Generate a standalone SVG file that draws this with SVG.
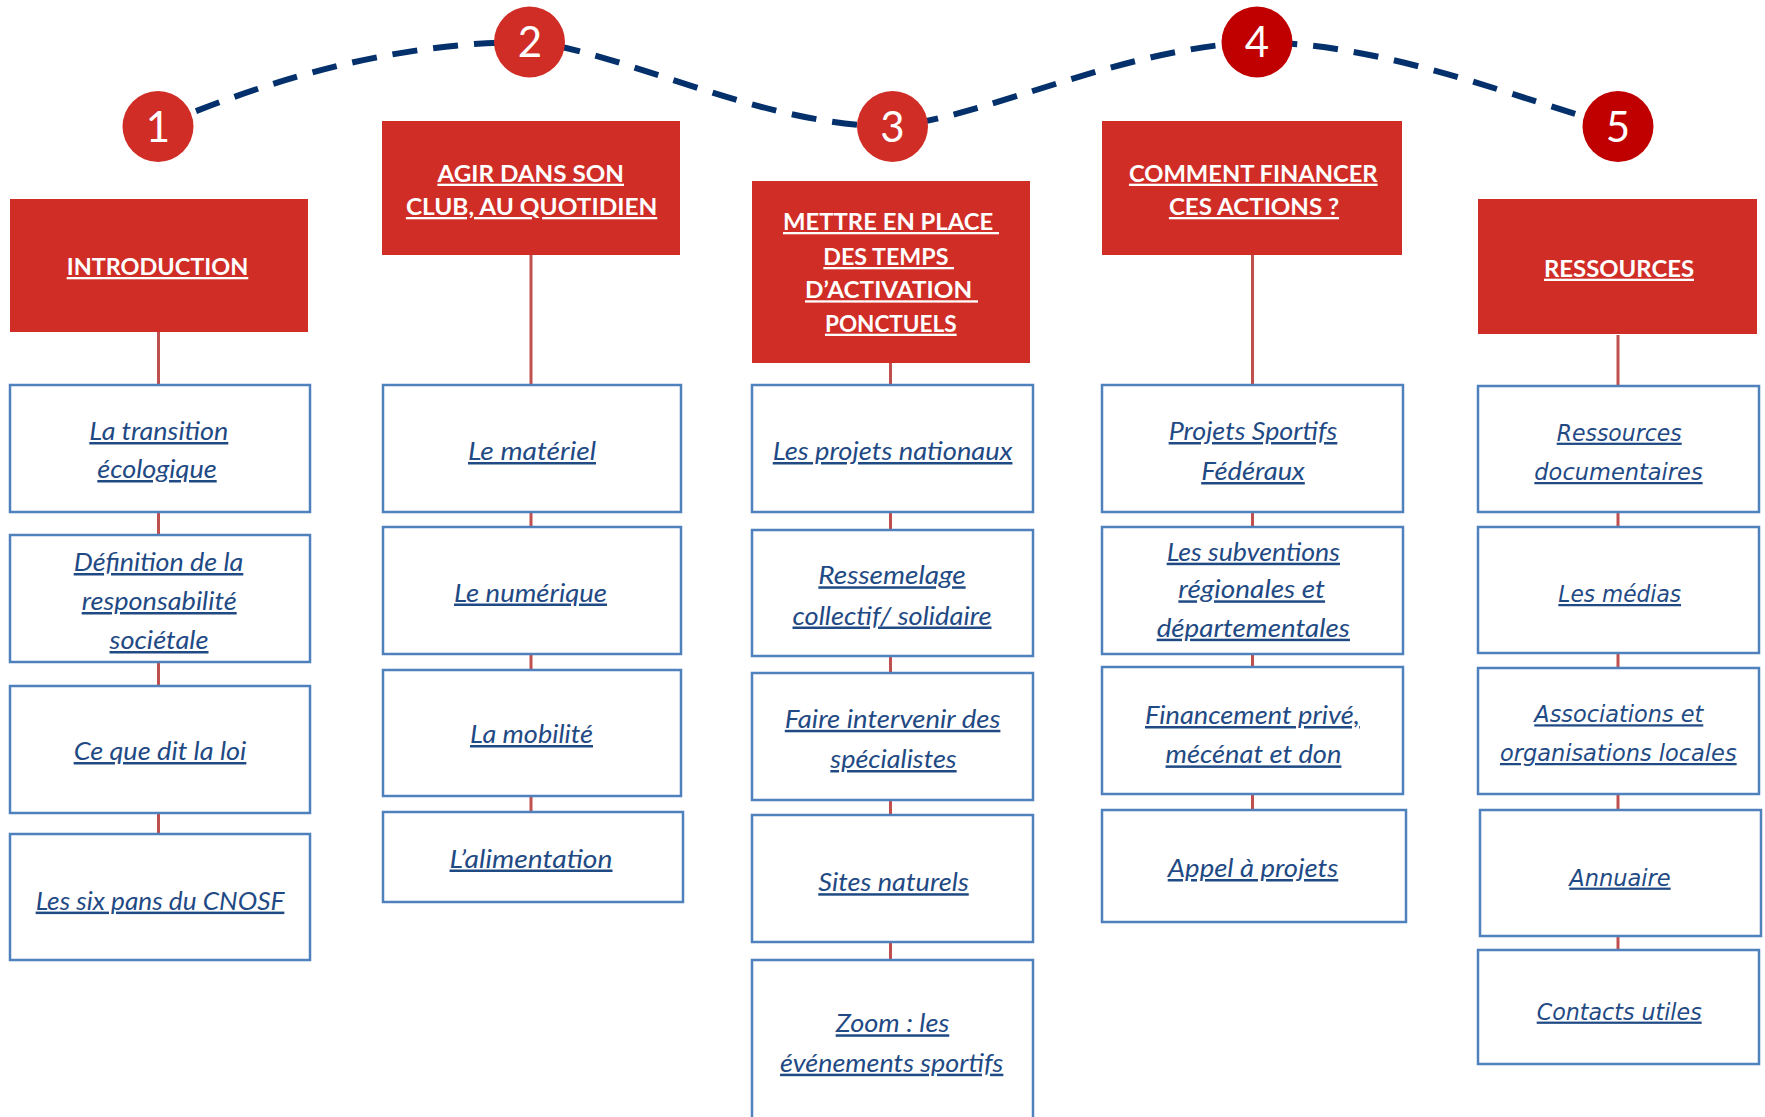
<svg xmlns="http://www.w3.org/2000/svg" width="1765" height="1117" viewBox="0 0 1765 1117">
<style>
.hdr{fill:#D12D27}
.ht{font-family:Lato,"Liberation Sans",sans-serif;font-weight:bold;font-size:23px;fill:#fff;text-decoration:underline;text-anchor:middle}
.box{fill:#fff;stroke:#4F81BD;stroke-width:2.5}
.bt{font-family:Lato,"Liberation Sans",sans-serif;font-style:italic;font-size:25px;fill:#1F4A84;text-decoration:underline;text-anchor:middle}
.bt5{font-family:"DejaVu Sans",Verdana,sans-serif;font-style:italic;font-size:22.5px;fill:#1F4A84;text-decoration:underline;text-anchor:middle}
.conn line{stroke:#C0504D;stroke-width:3}
.wave{fill:none;stroke:#04306C;stroke-width:6;stroke-dasharray:25 16}
.circ{fill:#D12D27}
.circd{fill:#C00000}
.num{font-family:Lato,"Liberation Sans",sans-serif;font-size:42px;fill:#fff;text-anchor:middle}
</style>
<rect width="1765" height="1117" fill="#fff"/>

<g id="wave">
<path class="wave" d="M158,126.5 C250,88 380,42 529.5,42 C620,50 760,126.5 892.5,126.5 C990,116 1120,48 1257,42 C1390,44 1520,100 1618,126.5"/>
</g>

<g id="steps">
<g id="step1"><circle class="circ" cx="158" cy="126.5" r="35.5"/><text class="num" x="158" y="141.5">1</text></g>
<g id="step2"><circle class="circ" cx="529.5" cy="42" r="35.5"/><text class="num" x="530" y="57">2</text></g>
<g id="step3"><circle class="circ" cx="892.5" cy="126.5" r="35.5"/><text class="num" x="892.5" y="141.5">3</text></g>
<g id="step4"><circle class="circd" cx="1257" cy="42" r="35.5"/><text class="num" x="1257" y="57">4</text></g>
<g id="step5"><circle class="circd" cx="1618" cy="126.5" r="35.5"/><text class="num" x="1618" y="141.5">5</text></g>
</g>

<g id="connectors" class="conn">
<line x1="158.5" y1="332" x2="158.5" y2="385"/>
<line x1="158.5" y1="512" x2="158.5" y2="535"/>
<line x1="158.5" y1="662" x2="158.5" y2="686"/>
<line x1="158.5" y1="813" x2="158.5" y2="834"/>
<line x1="531" y1="255" x2="531" y2="385"/>
<line x1="531" y1="512" x2="531" y2="527"/>
<line x1="531" y1="654" x2="531" y2="670"/>
<line x1="531" y1="796" x2="531" y2="812"/>
<line x1="890.5" y1="363" x2="890.5" y2="385"/>
<line x1="890.5" y1="512" x2="890.5" y2="530"/>
<line x1="890.5" y1="656" x2="890.5" y2="673"/>
<line x1="890.5" y1="800" x2="890.5" y2="815"/>
<line x1="890.5" y1="942" x2="890.5" y2="960"/>
<line x1="1252.5" y1="255" x2="1252.5" y2="385"/>
<line x1="1252.5" y1="512" x2="1252.5" y2="527"/>
<line x1="1252.5" y1="654" x2="1252.5" y2="667"/>
<line x1="1252.5" y1="794" x2="1252.5" y2="810"/>
<line x1="1618" y1="335" x2="1618" y2="386"/>
<line x1="1618" y1="512" x2="1618" y2="527"/>
<line x1="1618" y1="653" x2="1618" y2="668"/>
<line x1="1618" y1="794" x2="1618" y2="810"/>
<line x1="1618" y1="936" x2="1618" y2="950"/>
</g>

<g id="h1"><rect class="hdr" x="10" y="199" width="298" height="133"/>
<text class="ht" x="157.5" y="275" textLength="181.6" lengthAdjust="spacingAndGlyphs">INTRODUCTION</text></g>
<g id="h2"><rect class="hdr" x="382" y="121" width="298" height="134"/>
<text class="ht" x="530.7" y="181.7" textLength="186.6" lengthAdjust="spacingAndGlyphs">AGIR DANS SON</text>
<text class="ht" x="531.6" y="215" textLength="251.4" lengthAdjust="spacingAndGlyphs">CLUB, AU QUOTIDIEN</text></g>
<g id="h3"><rect class="hdr" x="752" y="181" width="278" height="182"/>
<text class="ht" x="891" y="230" textLength="216" lengthAdjust="spacingAndGlyphs">METTRE EN PLACE&#160;</text>
<text class="ht" x="888.7" y="265" textLength="130.7" lengthAdjust="spacingAndGlyphs">DES TEMPS&#160;</text>
<text class="ht" x="891.5" y="298.3" textLength="173" lengthAdjust="spacingAndGlyphs">D’ACTIVATION&#160;</text>
<text class="ht" x="890.8" y="331.7" textLength="131.7" lengthAdjust="spacingAndGlyphs">PONCTUELS</text></g>
<g id="h4"><rect class="hdr" x="1102" y="121" width="300" height="134"/>
<text class="ht" x="1253.3" y="181.7" textLength="248.7" lengthAdjust="spacingAndGlyphs">COMMENT FINANCER</text>
<text class="ht" x="1254" y="215" textLength="170.2" lengthAdjust="spacingAndGlyphs">CES ACTIONS ?</text></g>
<g id="h5"><rect class="hdr" x="1478" y="199" width="279" height="135"/>
<text class="ht" x="1619" y="276.7" textLength="150" lengthAdjust="spacingAndGlyphs">RESSOURCES</text></g>

<g id="c1b1"><rect class="box" x="10" y="385" width="300" height="127"/>
<text class="bt" x="158.8" y="440" textLength="139" lengthAdjust="spacingAndGlyphs">La transition</text>
<text class="bt" x="157" y="478" textLength="119.4" lengthAdjust="spacingAndGlyphs">écologique</text></g>
<g id="c1b2"><rect class="box" x="10" y="535" width="300" height="127"/>
<text class="bt" x="158.5" y="571" textLength="169.6" lengthAdjust="spacingAndGlyphs">Définition de la</text>
<text class="bt" x="159.2" y="610" textLength="155" lengthAdjust="spacingAndGlyphs">responsabilité</text>
<text class="bt" x="159" y="649" textLength="99" lengthAdjust="spacingAndGlyphs">sociétale</text></g>
<g id="c1b3"><rect class="box" x="10" y="686" width="300" height="127"/>
<text class="bt" x="160" y="760" textLength="172.7" lengthAdjust="spacingAndGlyphs">Ce que dit la loi</text></g>
<g id="c1b4"><rect class="box" x="10" y="834" width="300" height="126"/>
<text class="bt" x="160" y="909.6" textLength="248.7" lengthAdjust="spacingAndGlyphs">Les six pans du CNOSF</text></g>

<g id="c2b1"><rect class="box" x="383" y="385" width="298" height="127"/>
<text class="bt" x="532" y="460" textLength="128" lengthAdjust="spacingAndGlyphs">Le matériel</text></g>
<g id="c2b2"><rect class="box" x="383" y="527" width="298" height="127"/>
<text class="bt" x="530.5" y="601.5" textLength="153" lengthAdjust="spacingAndGlyphs">Le numérique</text></g>
<g id="c2b3"><rect class="box" x="383" y="670" width="298" height="126"/>
<text class="bt" x="531.5" y="743" textLength="123" lengthAdjust="spacingAndGlyphs">La mobilité</text></g>
<g id="c2b4"><rect class="box" x="383" y="812" width="300" height="90"/>
<text class="bt" x="531" y="867.5" textLength="163" lengthAdjust="spacingAndGlyphs">L’alimentation</text></g>

<g id="c3b1"><rect class="box" x="752" y="385" width="281" height="127"/>
<text class="bt" x="892.6" y="460" textLength="239.7" lengthAdjust="spacingAndGlyphs">Les projets nationaux</text></g>
<g id="c3b2"><rect class="box" x="752" y="530" width="281" height="126"/>
<text class="bt" x="892" y="584.3" textLength="147.3" lengthAdjust="spacingAndGlyphs">Ressemelage</text>
<text class="bt" x="892" y="624.5" textLength="199" lengthAdjust="spacingAndGlyphs">collectif/ solidaire</text></g>
<g id="c3b3"><rect class="box" x="752" y="673" width="281" height="127"/>
<text class="bt" x="892.6" y="727.8" textLength="215.6" lengthAdjust="spacingAndGlyphs">Faire intervenir des</text>
<text class="bt" x="893.5" y="768" textLength="126.3" lengthAdjust="spacingAndGlyphs">spécialistes</text></g>
<g id="c3b4"><rect class="box" x="752" y="815" width="281" height="127"/>
<text class="bt" x="893.5" y="891.2" textLength="150.5" lengthAdjust="spacingAndGlyphs">Sites naturels</text></g>
<g id="c3b5"><rect class="box" x="752" y="960" width="281" height="170"/>
<text class="bt" x="892.5" y="1032.3" textLength="113.6" lengthAdjust="spacingAndGlyphs">Zoom : les</text>
<text class="bt" x="891.7" y="1071.7" textLength="223.3" lengthAdjust="spacingAndGlyphs">événements sportifs</text></g>

<g id="c4b1"><rect class="box" x="1102" y="385" width="301" height="127"/>
<text class="bt" x="1253" y="440" textLength="168.7" lengthAdjust="spacingAndGlyphs">Projets Sportifs</text>
<text class="bt" x="1253" y="480" textLength="103.6" lengthAdjust="spacingAndGlyphs">Fédéraux</text></g>
<g id="c4b2"><rect class="box" x="1102" y="527" width="301" height="127"/>
<text class="bt" x="1253.3" y="560.7" textLength="173.3" lengthAdjust="spacingAndGlyphs">Les subventions</text>
<text class="bt" x="1251.7" y="598.3" textLength="146.7" lengthAdjust="spacingAndGlyphs">régionales et</text>
<text class="bt" x="1253.3" y="636.7" textLength="193.3" lengthAdjust="spacingAndGlyphs">départementales</text></g>
<g id="c4b3"><rect class="box" x="1102" y="667" width="301" height="127"/>
<text class="bt" x="1252.4" y="724" textLength="214.8" lengthAdjust="spacingAndGlyphs">Financement privé,</text>
<text class="bt" x="1253.5" y="763.4" textLength="175.9" lengthAdjust="spacingAndGlyphs">mécénat et don</text></g>
<g id="c4b4"><rect class="box" x="1102" y="810" width="304" height="112"/>
<text class="bt" x="1253" y="877" textLength="170.5" lengthAdjust="spacingAndGlyphs">Appel à projets</text></g>

<g id="c5b1"><rect class="box" x="1478" y="386" width="281" height="126"/>
<text class="bt5" x="1619.2" y="440.7" textLength="125" lengthAdjust="spacingAndGlyphs">Ressources</text>
<text class="bt5" x="1618.5" y="480" textLength="168.3" lengthAdjust="spacingAndGlyphs">documentaires</text></g>
<g id="c5b2"><rect class="box" x="1478" y="527" width="281" height="126"/>
<text class="bt5" x="1619.7" y="602" textLength="122.7" lengthAdjust="spacingAndGlyphs">Les médias</text></g>
<g id="c5b3"><rect class="box" x="1478" y="668" width="281" height="126"/>
<text class="bt5" x="1618.8" y="722.3" textLength="169" lengthAdjust="spacingAndGlyphs">Associations  et</text>
<text class="bt5" x="1618.3" y="761" textLength="236.7" lengthAdjust="spacingAndGlyphs">organisations  locales</text></g>
<g id="c5b4"><rect class="box" x="1480" y="810" width="281" height="126"/>
<text class="bt5" x="1620" y="885.6" textLength="101.3" lengthAdjust="spacingAndGlyphs">Annuaire</text></g>
<g id="c5b5"><rect class="box" x="1478" y="950" width="281" height="114"/>
<text class="bt5" x="1619.2" y="1019.6" textLength="165" lengthAdjust="spacingAndGlyphs">Contacts  utiles</text></g>
</svg>
